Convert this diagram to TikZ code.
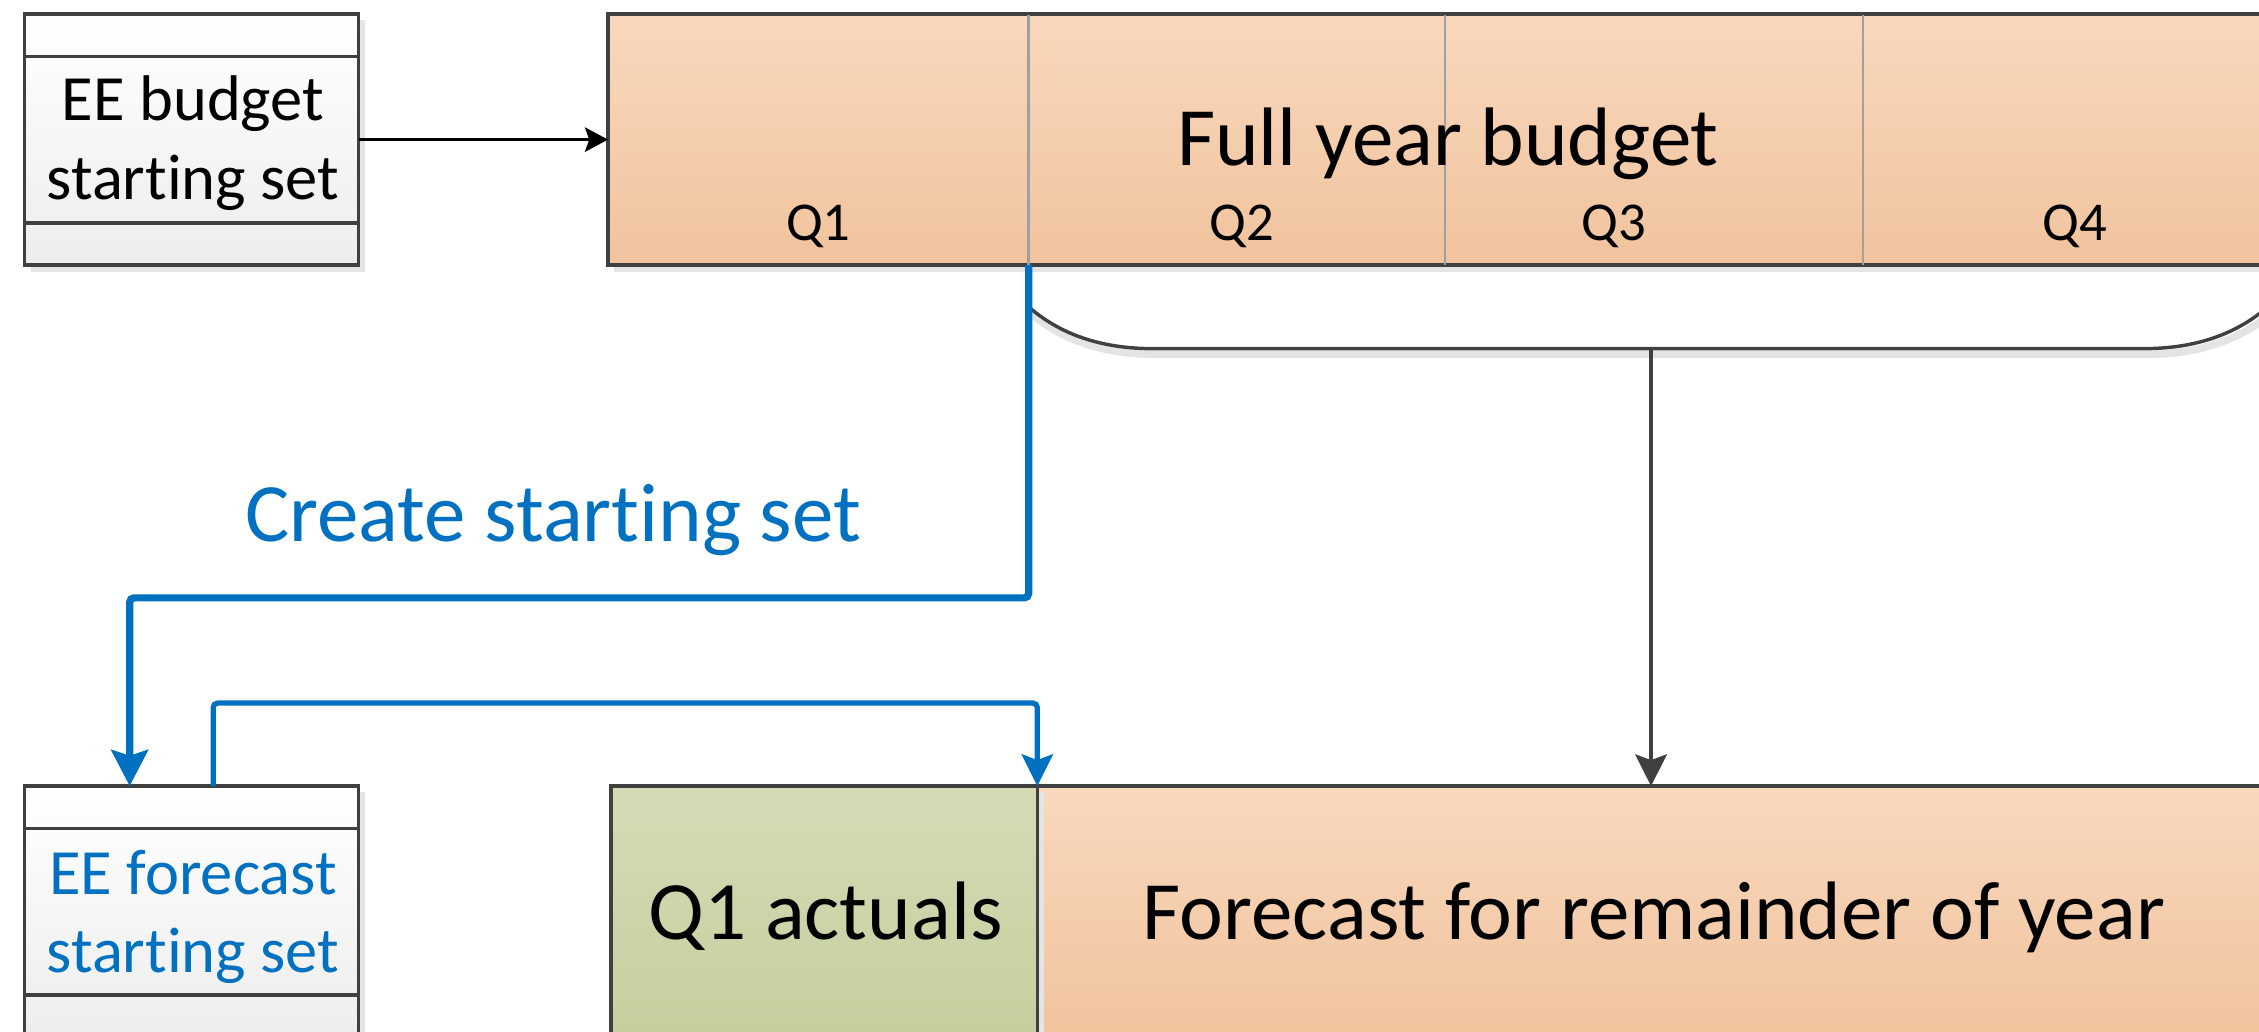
\documentclass[tikz,border=0pt]{standalone}
\usepackage{fontspec}
\setmainfont{Carlito}[Ligatures={NoCommon,NoContextual}, Contextuals=NoAlternate]
\usetikzlibrary{arrows.meta,shadows}

\definecolor{edge}{HTML}{404040}
\definecolor{peachtop}{RGB}{248,216,189}
\definecolor{peachbot}{RGB}{241,195,157}
\definecolor{greentop}{RGB}{212,220,182}
\definecolor{greenbot}{RGB}{197,207,157}
\definecolor{paneltop}{RGB}{255,255,255}
\definecolor{panelbot}{RGB}{237,237,237}
\definecolor{flowblue}{HTML}{0070C0}
\definecolor{qline}{HTML}{A0A0A0}
\definecolor{shade}{RGB}{228,228,228}

\begin{document}
\begin{tikzpicture}[x=0.5pt,y=-0.5pt,
  panel/.style={rectangle, draw=edge, line width=1.2pt, inner sep=0pt, outer sep=0pt,
    drop shadow={shadow xshift=2.2pt, shadow yshift=-2.2pt, fill=shade, opacity=1}},
  setbox/.style={panel, top color=paneltop, bottom color=panelbot,
    minimum width=116pt, minimum height=87.2pt},
  peachbox/.style={panel, top color=peachtop, bottom color=peachbot, minimum height=87.2pt},
  greenbox/.style={panel, top color=greentop, bottom color=greenbot, minimum height=87.2pt},
  rowline/.style={draw=edge, line width=1.2pt},
  qdivider/.style={draw=qline, line width=0.9pt},
  bigtext/.style={font=\fontsize{28.8}{34.6}\selectfont, inner sep=0pt, anchor=base},
  midtext/.style={font=\fontsize{22.4}{27.2}\selectfont, inner sep=0pt, anchor=base},
  qtext/.style={font=\fontsize{19}{23}\selectfont, inner sep=0pt, anchor=base},
  plainflow/.style={draw=black, line width=1pt, -{Stealth[length=8pt, width=8.5pt, inset=1.5pt]}},
  greyflow/.style={draw=edge, line width=1.2pt, -{Stealth[length=11pt, width=11pt, inset=2pt]}},
  thickflow/.style={draw=flowblue, line width=2.5pt, rounded corners=1.5pt,
    -{Stealth[length=12.5pt, width=12.7pt, inset=2pt]}},
  thinflow/.style={draw=flowblue, line width=1.8pt, rounded corners=1.5pt,
    -{Stealth[length=11pt, width=10.8pt, inset=2pt]}},
  bracket/.style={draw=edge, line width=1.2pt},
  bracketshadow/.style={draw=shade, line width=2.6pt}
]
\useasboundingbox (0,0) rectangle (1568,716);
\clip (0,0) rectangle (1568,716);

% budget starting set (top left)
\node[setbox] (sbud) at (133,96.9) {};
\draw[rowline] ([yshift=-14.8pt]sbud.north west) -- ([yshift=-14.8pt]sbud.north east);
\draw[rowline] ([yshift=14.7pt]sbud.south west) -- ([yshift=14.7pt]sbud.south east);
\node[midtext] (sbud1) at (134,83.8) {EE budget};
\node[midtext] (sbud2) at (134,138.2) {starting set};

% full year budget with its quarters
\node[peachbox, minimum width=579pt] (budget) at (1001,96.9) {};
\coordinate (q12) at (714,184);
\draw[qdivider] (714,10.2) -- (q12);
\draw[qdivider] (1003,10.2) -- (1003,183.6);
\draw[qdivider] (1293,10.2) -- (1293,183.6);
\node[bigtext] (budlbl) at (1005,115) {Full year budget};
\node[qtext] (q1) at (568,167) {Q1};
\node[qtext] (q2) at (862,167) {Q2};
\node[qtext] (q3) at (1120,167) {Q3};
\node[qtext] (q4) at (1440,167) {Q4};

% bracket over Q2 to Q4
\draw[bracketshadow] (716,218) .. controls (740,238) and (770,246) .. (802,246)
  -- (1490,246) .. controls (1522,246) and (1552,238) .. (1576,218);
\draw[bracket] (714,213) .. controls (738,234) and (768,242) .. (800,242)
  -- (1488,242) .. controls (1520,242) and (1550,234) .. (1574,213);
\coordinate (brace) at (1146,242);

% forecast starting set (bottom left)
\node[setbox] (fstart) at (133,632.8) {};
\draw[rowline] ([yshift=-14.8pt]fstart.north west) -- ([yshift=-14.8pt]fstart.north east);
\draw[rowline] ([yshift=14.7pt]fstart.south west) -- ([yshift=14.7pt]fstart.south east);
\node[midtext, text=flowblue] (fst1) at (134,621) {EE forecast};
\node[midtext, text=flowblue] (fst2) at (134,675) {starting set};

% actuals and forecast
\node[peachbox, minimum width=430pt] (forecast) at (1150,632.8) {};
\node[greenbox, minimum width=148pt] (actual) at (572,632.8) {};
\node[bigtext] (actlbl) at (573,651.8) {Q1 actuals};
\node[bigtext] (fcslbl) at (1148,651.8) {Forecast for remainder of year};

% connectors
\draw[plainflow] (sbud.east) -- (budget.west);
\draw[greyflow] (brace) -- (forecast.north -| brace);
\draw[thickflow] (q12) -- ++(0,231) -| ([xshift=-21.5pt]fstart.north);
\draw[thinflow] ([xshift=7.5pt]fstart.north) -- ++(0,-57.6) -| (actual.north east);
\node[bigtext, text=flowblue] (createlbl) at (384,376) {Create starting set};
\end{tikzpicture}
\end{document}
